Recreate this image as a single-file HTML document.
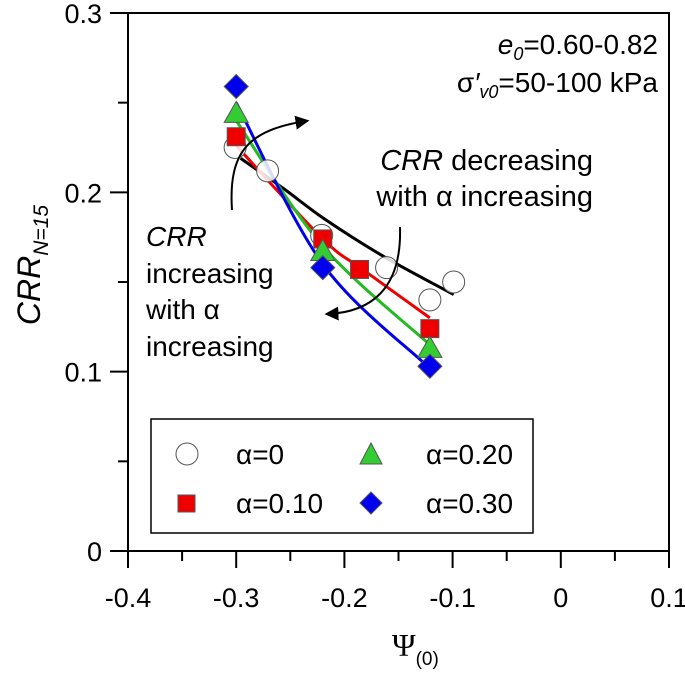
<!DOCTYPE html>
<html><head><meta charset="utf-8"><style>
body{margin:0;background:#fff}
svg{display:block;font-family:"Liberation Sans",Arial,sans-serif}
</style></head><body>
<svg id="chart" width="685" height="674" viewBox="0 0 685 674">
<defs>
<marker id="ah" markerWidth="14" markerHeight="14" refX="9" refY="6" orient="auto" markerUnits="userSpaceOnUse" viewBox="0 0 12 12"><path d="M0,0 L12,6 L0,12 Z" fill="#000"/></marker>
</defs>
<g id="axes"></g>
<g id="curves"></g>
<g id="points"></g>
<text x="658" y="54" font-size="28" text-anchor="end"><tspan font-style="italic">e</tspan><tspan font-style="italic" font-size="18" dy="6">0</tspan><tspan dy="-6">=0.60-0.82</tspan></text>
<text x="658" y="92" font-size="28" text-anchor="end">σ<tspan font-style="italic">′</tspan><tspan font-style="italic" font-size="18" dy="6">v0</tspan><tspan dy="-6">=50-100 kPa</tspan></text>
<text x="593" y="170" font-size="29" text-anchor="end"><tspan font-style="italic">CRR</tspan> decreasing</text>
<text x="593" y="206" font-size="29" text-anchor="end">with α increasing</text>
<g font-size="28">
<text x="146" y="246" font-style="italic">CRR</text>
<text x="146" y="283">increasing</text>
<text x="146" y="319">with α</text>
<text x="146" y="356">increasing</text>
</g>
<path d="M232,210 C228,150 250,130 306,121" fill="none" stroke="#000" stroke-width="2" marker-end="url(#ah)"/>
<path d="M400,227 C402,290 370,312 328,314" fill="none" stroke="#000" stroke-width="2" marker-end="url(#ah)"/>
<g>
<rect x="151" y="419" width="382" height="114" fill="#fff" stroke="#000" stroke-width="1.5"/>
<circle cx="187" cy="454" r="11" fill="#fff" stroke="#555" stroke-width="1"/>
<text x="236" y="464" font-size="28">α=0</text>
<path d="M371,443 L382,464 L360,464 Z" fill="#33cc33" stroke="#555" stroke-width="1"/>
<text x="426" y="464" font-size="28">α=0.20</text>
<rect x="178" y="495" width="17" height="17" fill="#ee0000" stroke="#555" stroke-width="1"/>
<text x="236" y="513" font-size="28">α=0.10</text>
<path d="M371,492 L382,503 L371,514 L360,503 Z" fill="#0000ee" stroke="#555" stroke-width="1"/>
<text x="426" y="513" font-size="28">α=0.30</text>
</g>
<text transform="translate(40,265) rotate(-90)" font-size="32" text-anchor="middle"><tspan font-style="italic">CRR</tspan><tspan font-style="italic" font-size="21" dy="8">N=15</tspan></text>
<text x="392" y="656" font-size="32" font-family="'Liberation Serif',serif">Ψ<tspan font-size="19" dy="9" font-family="'Liberation Sans',sans-serif">(0)</tspan></text>
</svg>
<script>
const xTicks=[-0.4,-0.3,-0.2,-0.1,0,0.1];
const xTickLabels=["-0.4","-0.3","-0.2","-0.1","0","0.1"];
const yTicks=[0,0.1,0.2,0.3];
const yTickLabels=["0","0.1","0.2","0.3"];
const a0X=[-0.301,-0.271,-0.221,-0.161,-0.121,-0.099];
const a0Y=[0.225,0.212,0.176,0.158,0.140,0.150];
const a10X=[-0.30,-0.22,-0.186,-0.121];
const a10Y=[0.231,0.174,0.157,0.124];
const a20X=[-0.30,-0.22,-0.121];
const a20Y=[0.244,0.167,0.113];
const a30X=[-0.30,-0.22,-0.121];
const a30Y=[0.259,0.158,0.103];
const fit0X=[-0.296,-0.256,-0.218,-0.163,-0.099];
const fit0Y=[0.219,0.202,0.185,0.164,0.143];
const fit10X=[-0.30,-0.22,-0.183,-0.121];
const fit10Y=[0.226,0.174,0.157,0.130];
const fit20X=[-0.30,-0.22,-0.121];
const fit20Y=[0.240,0.170,0.115];
const fit30X=[-0.30,-0.22,-0.125];
const fit30Y=[0.250,0.160,0.104];

const X0=128,X1=669,Y0=551,Y1=13;
const sx=v=>X0+(v+0.4)/0.5*(X1-X0);
const sy=v=>Y0-v/0.3*(Y0-Y1);
const NS="http://www.w3.org/2000/svg";
function mk(tag,attrs,parent){const e=document.createElementNS(NS,tag);for(const k in attrs)e.setAttribute(k,attrs[k]);parent.appendChild(e);return e;}
const axes=document.getElementById('axes');
const frame=mk('rect',{x:X0,y:Y1,width:X1-X0,height:Y0-Y1,fill:'none',stroke:'#000','stroke-width':2},axes);


for(let i=0;i<=10;i++){const v=-0.4+i*0.05;const x=sx(v);
 const t=mk('line',{x1:x,x2:x,y1:Y0,y2:Y0+(i%2?10:17),stroke:'#000','stroke-width':2},axes);
 
 }
for(let i=0;i<=6;i++){const v=i*0.05;const y=sy(v);
 const t=mk('line',{x1:X0,x2:X0-(i%2?10:18),y1:y,y2:y,stroke:'#000','stroke-width':2},axes);
 
 }
xTicks.forEach((v,i)=>{const t=mk('text',{x:sx(v),y:Y0+56,'font-size':27,'text-anchor':'middle'},axes);t.textContent=xTickLabels[i];
 
 });
yTicks.forEach((v,i)=>{const t=mk('text',{x:X0-26,y:sy(v)+10,'font-size':27,'text-anchor':'end'},axes);t.textContent=yTickLabels[i];
 
 });
function smooth(xs,ys){const p=xs.map((x,i)=>[sx(x),sy(ys[i])]);let d=`M${p[0][0]},${p[0][1]}`;
 for(let i=0;i<p.length-1;i++){const a=p[i-1]||p[i],b=p[i],c=p[i+1],e=p[i+2]||c;
 d+=` C${b[0]+(c[0]-a[0])/6},${b[1]+(c[1]-a[1])/6} ${c[0]-(e[0]-b[0])/6},${c[1]-(e[1]-b[1])/6} ${c[0]},${c[1]}`;}return d;}
const curves=document.getElementById('curves');
[[fit0X,fit0Y,'#000','fit-alpha-0'],[fit10X,fit10Y,'#ee0000','fit-alpha-0.10'],[fit20X,fit20Y,'#22bb22','fit-alpha-0.20'],[fit30X,fit30Y,'#0000ee','fit-alpha-0.30']].forEach(c=>{
 const p=mk('path',{d:smooth(c[0],c[1]),fill:'none',stroke:c[2],'stroke-width':3},curves);
 
 });
const pts=document.getElementById('points');
a0X.forEach((x,i)=>{const e=mk('circle',{cx:sx(x),cy:sy(a0Y[i]),r:11,fill:'#fff','fill-opacity':0.85,stroke:'#555','stroke-width':1},pts);
 
 });
a10X.forEach((x,i)=>{const cx=sx(x),cy=sy(a10Y[i]);const e=mk('rect',{x:cx-9,y:cy-9,width:18,height:18,fill:'#ee0000',stroke:'#555','stroke-width':1},pts);
 
 });
a20X.forEach((x,i)=>{const cx=sx(x),cy=sy(a20Y[i]);const e=mk('path',{d:`M${cx},${cy-12} L${cx+12},${cy+9} L${cx-12},${cy+9} Z`,fill:'#33cc33',stroke:'#555','stroke-width':1},pts);
 
 });
a30X.forEach((x,i)=>{const cx=sx(x),cy=sy(a30Y[i]);const e=mk('path',{d:`M${cx},${cy-12} L${cx+12},${cy} L${cx},${cy+12} L${cx-12},${cy} Z`,fill:'#0000ee',stroke:'#555','stroke-width':1},pts);
 
 });
</script>
</body></html>
